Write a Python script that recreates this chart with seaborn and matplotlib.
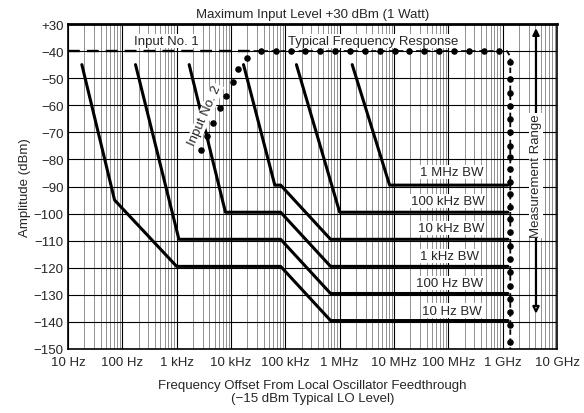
import matplotlib
matplotlib.use("Agg")
import matplotlib.pyplot as plt
from matplotlib.ticker import LogLocator
import seaborn as sns

# frequency offset ticks (Hz) and labels
x_ticks = [1e1, 1e2, 1e3, 1e4, 1e5, 1e6, 1e7, 1e8, 1e9, 1e10]
x_labels = ["10 Hz", "100 Hz", "1 kHz", "10 kHz", "100 kHz", "1 MHz",
            "10 MHz", "100 MHz", "1 GHz", "10 GHz"]

# amplitude ticks: the top one (+30 dBm) is drawn one step above -40
y_ticks = [-30, -40, -50, -60, -70, -80, -90, -100, -110, -120, -130, -140, -150]
y_labels = ["+30"] + ["\u2212%d" % -v for v in y_ticks[1:]]

# noise floor curves, breakpoints (Hz, dBm)
bw_names = ["10 Hz BW", "100 Hz BW", "1 kHz BW", "10 kHz BW", "100 kHz BW", "1 MHz BW"]
bw_10hz_f = [18, 72, 1.0e3, 8.2e4, 6.8e5, 1.25e9]
bw_10hz_db = [-45, -95, -119.5, -119.5, -139.5, -139.5]
bw_100hz_f = [175, 1.1e3, 8.2e4, 6.8e5, 1.25e9]
bw_100hz_db = [-45, -109.5, -109.5, -129.5, -129.5]
bw_1khz_f = [1.7e3, 7.9e3, 8.2e4, 6.8e5, 1.25e9]
bw_1khz_db = [-45, -99.5, -99.5, -119.5, -119.5]
bw_10khz_f = [1.7e4, 6.4e4, 8.2e4, 6.8e5, 1.25e9]
bw_10khz_db = [-45, -89.5, -89.5, -109.5, -109.5]
bw_100khz_f = [1.6e5, 1.0e6, 1.25e9]
bw_100khz_db = [-45, -99.5, -99.5]
bw_1mhz_f = [1.7e6, 8.3e6, 1.25e9]
bw_1mhz_db = [-45, -89.5, -89.5]

curves = [(bw_10hz_f, bw_10hz_db), (bw_100hz_f, bw_100hz_db), (bw_1khz_f, bw_1khz_db),
          (bw_10khz_f, bw_10khz_db), (bw_100khz_f, bw_100khz_db), (bw_1mhz_f, bw_1mhz_db)]
bw_label_f = [1.15e8, 1.05e8, 1.05e8, 1.15e8, 1.0e8, 1.15e8]
bw_label_db = [-135.8, -125.5, -115.5, -105.3, -95.3, -84.8]

# input no. 1 dashed level
input1_f = [10, 2.6e4]
input1_db = [-40, -40]

# typical frequency response: line corners and the marker points on it
typical_f = [2.6e4, 1.2e9, 1.38e9, 1.38e9]
typical_db = [-40, -40, -42, -150]
typical_top_f = [3.56e4, 6.7e4, 1.25e5, 2.35e5, 4.4e5, 8.3e5, 1.55e6, 2.9e6, 5.5e6,
                 1.03e7, 1.9e7, 3.6e7, 6.8e7, 1.27e8, 2.4e8, 4.5e8, 8.4e8]
typical_side_db = [-44.1, -50.3, -55.5, -60.1, -65.1, -70.0, -74.9, -79.2, -83.5, -88.4,
                   -92.7, -97.6, -102.0, -106.9, -111.8, -116.7, -121.6, -126.6,
                   -131.5, -136.4, -141.3, -147.5]

# input no. 2 dotted points
input2_f = [2840, 3620, 4760, 6310, 8110, 11000, 13200, 20000]
input2_db = [-76.4, -71.5, -66.5, -61, -56.6, -51.3, -46.6, -42.5]

sns.set_style("white")
plt.rcParams['font.family'] = ['Liberation Sans', 'DejaVu Sans']
plt.rcParams['font.size'] = 9.5

fig = plt.figure(figsize=(5.84, 4.14), dpi=100)
ax = fig.add_axes([0.1164, 0.1546, 0.8374, 0.785])
ax.set_xscale("log")
ax.set_xlim(1e1, 1e10)
ax.set_ylim(-150, -30)
ax.xaxis.set_minor_locator(LogLocator(base=10, subs=range(2, 10), numticks=200))

ax.grid(True, which="major", axis="both", color="black", lw=0.8)
ax.grid(True, which="minor", axis="x", color="0.5", lw=0.6)
ax.set_axisbelow(True)

for f, db in curves:
    sns.lineplot(x=f, y=db, ax=ax, color="black", lw=2.2, sort=False, estimator=None)

for name, f, db in zip(bw_names, bw_label_f, bw_label_db):
    ax.text(f, db, name, ha="center", va="center", fontsize=9.5,
            bbox=dict(facecolor="white", edgecolor="none", pad=0.8))

sns.lineplot(x=input1_f, y=input1_db, ax=ax, color="black", lw=1.7,
             linestyle=(0, (5, 3)), sort=False, estimator=None)
sns.lineplot(x=typical_f, y=typical_db, ax=ax, color="black", lw=1.3,
             linestyle=(0, (3, 2)), sort=False, estimator=None)
sns.scatterplot(x=typical_top_f, y=[-40] * len(typical_top_f), ax=ax, color="black",
                edgecolor="black", s=15, linewidth=0.8, zorder=5)
sns.scatterplot(x=[1.38e9] * len(typical_side_db), y=typical_side_db, ax=ax, color="black",
                edgecolor="black", s=15, linewidth=0.8, zorder=5)
sns.scatterplot(x=input2_f, y=input2_db, ax=ax, color="black", edgecolor="black",
                s=15, linewidth=0.8, zorder=5)

ax.text(6.5e2, -36.2, "Input No. 1", ha="center", va="center",
        bbox=dict(facecolor="white", edgecolor="none", pad=0.8))
ax.text(4.2e6, -36.2, "Typical Frequency Response", ha="center", va="center",
        bbox=dict(facecolor="white", edgecolor="none", pad=0.8))
ax.text(3.3e3, -63.5, "Input No. 2", ha="center", va="center", rotation=66,
        bbox=dict(facecolor="white", edgecolor="none", pad=0.5))

# measurement range arrows and text
ax.annotate("", xy=(4.1e9, -30.5), xytext=(4.1e9, -64),
            arrowprops=dict(arrowstyle="-|>", color="black", lw=1.6))
ax.annotate("", xy=(4.1e9, -138), xytext=(4.1e9, -108),
            arrowprops=dict(arrowstyle="-|>", color="black", lw=1.6, fc="white"))
ax.text(4.1e9, -86, "Measurement Range", rotation=90, ha="center", va="center",
        bbox=dict(facecolor="white", edgecolor="none", pad=0.5))

ax.set_xticks(x_ticks)
ax.set_xticklabels(x_labels)
ax.set_yticks(y_ticks)
ax.set_yticklabels(y_labels)
ax.tick_params(axis="both", which="major", length=3, direction="in")
ax.tick_params(axis="x", which="major", pad=5)
ax.tick_params(axis="y", which="major", pad=3)
ax.tick_params(axis="x", which="minor", length=0)
for s in ax.spines.values():
    s.set_color("black")
    s.set_linewidth(1.2)
ax.spines["top"].set_linewidth(2)

ax.set_title("Maximum Input Level +30 dBm (1 Watt)", fontsize=9.5, pad=5)
ax.set_ylabel("Amplitude (dBm)", labelpad=2)
ax.set_xlabel("Frequency Offset From Local Oscillator Feedthrough\n(\u221215 dBm Typical LO Level)",
              labelpad=8, linespacing=1.1)

fig.savefig("out.png", dpi=100)
